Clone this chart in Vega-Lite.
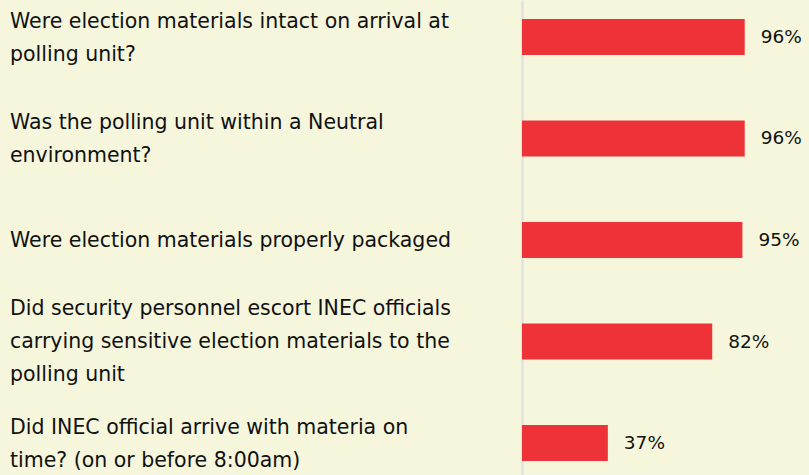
{
  "$schema": "https://vega.github.io/schema/vega-lite/v6.json",
  "autosize": {"type": "none"},
  "padding": {"left": 522, "top": 0, "right": 55, "bottom": 0},
  "width": 232,
  "height": 480,
  "background": "#f5f6dc",
  "config": {"view": {"stroke": null}},
  "data": {
    "values": [
      {"order": 1, "q": "Were election materials intact on arrival at\npolling unit?", "value": 0.96},
      {"order": 2, "q": "Was the polling unit within a Neutral\nenvironment?", "value": 0.96},
      {"order": 3, "q": "Were election materials properly packaged", "value": 0.95},
      {"order": 4, "q": "Did security personnel escort INEC officials\ncarrying sensitive election materials to the\npolling unit", "value": 0.82},
      {"order": 5, "q": "Did INEC official arrive with materia on\ntime? (on or before 8:00am)", "value": 0.37}
    ]
  },
  "encoding": {
    "y": {
      "field": "order",
      "type": "ordinal",
      "scale": {"paddingInner": 0.645, "paddingOuter": 0.187},
      "axis": {"title": null, "labels": false, "ticks": false, "domain": true, "domainColor": "#dedede", "domainWidth": 2, "grid": false}
    }
  },
  "layer": [
    {
      "mark": {"type": "bar", "color": "#ee3338"},
      "encoding": {
        "x": {"field": "value", "type": "quantitative", "scale": {"domain": [0, 1]}, "axis": null}
      }
    },
    {
      "mark": {"type": "text", "align": "left", "baseline": "middle", "dx": 16, "fontSize": 18.5, "font": "DejaVu Sans", "color": "#111111"},
      "encoding": {
        "x": {"field": "value", "type": "quantitative"},
        "text": {"field": "value", "type": "quantitative", "format": ".0%"}
      }
    },
    {
      "transform": [{"filter": "length(split(datum.q, '\\n')) == 1"}],
      "mark": {"type": "text", "align": "left", "baseline": "middle", "dx": -512, "dy": 1, "fontSize": 20.5, "font": "DejaVu Sans", "color": "#111111", "lineBreak": "\n", "lineHeight": 33},
      "encoding": {
        "x": {"datum": 0, "type": "quantitative"},
        "text": {"field": "q", "type": "nominal"}
      }
    },
    {
      "transform": [{"filter": "length(split(datum.q, '\\n')) == 2"}],
      "mark": {"type": "text", "align": "left", "baseline": "middle", "dx": -512, "dy": -15, "fontSize": 20.5, "font": "DejaVu Sans", "color": "#111111", "lineBreak": "\n", "lineHeight": 33},
      "encoding": {
        "x": {"datum": 0, "type": "quantitative"},
        "text": {"field": "q", "type": "nominal"}
      }
    },
    {
      "transform": [{"filter": "length(split(datum.q, '\\n')) == 3"}],
      "mark": {"type": "text", "align": "left", "baseline": "middle", "dx": -512, "dy": -33, "fontSize": 20.5, "font": "DejaVu Sans", "color": "#111111", "lineBreak": "\n", "lineHeight": 33},
      "encoding": {
        "x": {"datum": 0, "type": "quantitative"},
        "text": {"field": "q", "type": "nominal"}
      }
    }
  ]
}
